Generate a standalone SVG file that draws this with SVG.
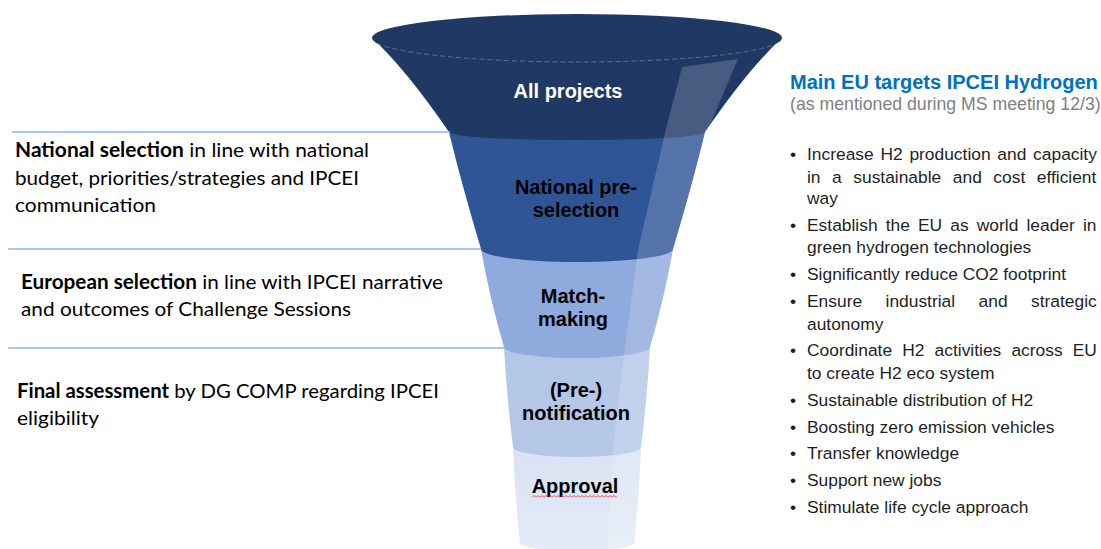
<svg xmlns="http://www.w3.org/2000/svg" xmlns:xlink="http://www.w3.org/1999/xlink" width="1101" height="549" viewBox="0 0 1101 549">
<style>
.fl{font-family:"Liberation Sans",Arial,sans-serif;font-weight:bold;font-size:20px;text-anchor:middle;fill:#000}
.lt{font-family:Lato,"Liberation Sans",sans-serif;font-size:20px;fill:#000}
.rt{font-family:"Liberation Sans",Arial,sans-serif;font-size:17.4px;fill:#1f1f1f}
.div{stroke:#8fb4e3;stroke-width:1.4;fill:none}
.hl{fill:#ffffff;fill-opacity:0.18}
</style>
<defs>
<path id="s1" d="M372,38 L782,38 Q749,68 705,132 A128,8 0 0 1 449,132 Q405,68 372,38 Z"/>
<path id="s2" d="M449,132 L705,132 Q693,182 673,249 A96,13 0 0 1 481,249 Q461,182 449,132 Z"/>
<path id="s3" d="M481,249 L673,249 Q664,300 650,347 A73,11 0 0 1 504,347 Q490,300 481,249 Z"/>
<path id="s4" d="M504,347 L650,347 Q647,400 641,447 A64,10 0 0 1 513,447 Q507,400 504,347 Z"/>
<path id="s5" d="M513,447 L641,447 Q639,500 634,543 A57,8 0 0 1 520,543 Q515,500 513,447 Z"/>
<path id="strip" d="M682,67 L738,59 L707,132 L715,300 L700,549 L607,549 L613,447 L625,347 L638,250 L665,133 Z"/>
<clipPath id="c1"><use xlink:href="#s1"/></clipPath>
<clipPath id="c2"><use xlink:href="#s2"/></clipPath>
<clipPath id="c3"><use xlink:href="#s3"/></clipPath>
<clipPath id="c4"><use xlink:href="#s4"/></clipPath>
<clipPath id="c5"><use xlink:href="#s5"/></clipPath>
<linearGradient id="g5" x1="0" y1="0" x2="0" y2="1">
<stop offset="0" stop-color="#d9e2f3"/><stop offset="1" stop-color="#e4ebf7"/>
</linearGradient>
<pattern id="sq" x="0" y="0" width="4" height="3" patternUnits="userSpaceOnUse">
<path d="M0,2.5 L2,0.5 L4,2.5" stroke="#e02020" stroke-width="0.8" fill="none"/>
</pattern>
</defs>

<g id="stage-approval">
<use xlink:href="#s5" fill="url(#g5)"/>
<use xlink:href="#strip" class="hl" clip-path="url(#c5)"/>
<text class="fl" x="575" y="493">Approval</text>
<rect x="532" y="495" width="85" height="3" fill="url(#sq)"/>
</g>
<g id="stage-prenotification">
<use xlink:href="#s4" fill="#b4c7e7"/>
<use xlink:href="#strip" class="hl" clip-path="url(#c4)"/>
<text class="fl" x="576" y="397">(Pre-)</text>
<text class="fl" x="576" y="420">notification</text>
</g>
<g id="stage-matchmaking">
<use xlink:href="#s3" fill="#8faadc"/>
<use xlink:href="#strip" class="hl" clip-path="url(#c3)"/>
<text class="fl" x="573" y="303">Match-</text>
<text class="fl" x="573" y="326">making</text>
</g>
<g id="stage-national-preselection">
<use xlink:href="#s2" fill="#2f5597"/>
<use xlink:href="#strip" class="hl" clip-path="url(#c2)"/>
<text class="fl" x="576" y="194">National pre-</text>
<text class="fl" x="576" y="217">selection</text>
</g>
<g id="stage-all-projects">
<use xlink:href="#s1" fill="#203864"/>
<ellipse cx="577" cy="38" rx="205" ry="24" fill="#203864"/>
<use xlink:href="#strip" class="hl" clip-path="url(#c1)"/>
<path d="M372,38 A205,24 0 0 0 782,38" fill="none" stroke="#ffffff" stroke-opacity="0.28" stroke-width="1" stroke-dasharray="5 3"/>
<text class="fl" x="568" y="98" style="fill:#fff">All projects</text>
</g>

<g id="connectors">
<line class="div" x1="12" y1="132" x2="450" y2="132"/>
<line class="div" x1="8" y1="249" x2="481" y2="249"/>
<line class="div" x1="8" y1="348" x2="504" y2="348"/>
</g>

<g id="label-national-selection">
<text class="lt" x="15" y="157" textLength="354" lengthAdjust="spacingAndGlyphs"><tspan font-weight="bold">National selection</tspan> in line with national</text>
<text class="lt" x="15" y="185" textLength="344" lengthAdjust="spacingAndGlyphs">budget, priorities/strategies and IPCEI</text>
<text class="lt" x="15" y="212" textLength="141" lengthAdjust="spacingAndGlyphs">communication</text>
</g>
<g id="label-european-selection">
<text class="lt" x="21" y="289" textLength="422" lengthAdjust="spacingAndGlyphs"><tspan font-weight="bold">European selection</tspan> in line with IPCEI narrative</text>
<text class="lt" x="21" y="316" textLength="330" lengthAdjust="spacingAndGlyphs">and outcomes of Challenge Sessions</text>
</g>
<g id="label-final-assessment">
<text class="lt" x="17" y="398" textLength="422" lengthAdjust="spacingAndGlyphs"><tspan font-weight="bold">Final assessment</tspan> by DG COMP regarding IPCEI</text>
<text class="lt" x="17" y="425" textLength="82" lengthAdjust="spacingAndGlyphs">eligibility</text>
</g>

<g id="targets">
<text x="790" y="89" style="font-family:'Liberation Sans',Arial,sans-serif;font-weight:bold;font-size:20px;fill:#0070c0">Main EU targets IPCEI Hydrogen</text>
<text x="790" y="110" style="font-family:'Liberation Sans',Arial,sans-serif;font-size:17.7px;fill:#7f7f7f">(as mentioned during MS meeting 12/3)</text>
<g class="rt">
<text x="790" y="160">•</text>
<text x="807" y="160" word-spacing="1.9">Increase H2 production and capacity</text>
<text x="807" y="183" word-spacing="6.7">in a sustainable and cost efficient</text>
<text x="807" y="204">way</text>
<text x="790" y="231">•</text>
<text x="807" y="231" word-spacing="3.3">Establish the EU as world leader in</text>
<text x="807" y="253">green hydrogen technologies</text>
<text x="790" y="280">•</text>
<text x="807" y="280">Significantly reduce CO2 footprint</text>
<text x="790" y="307">•</text>
<text x="807" y="307" word-spacing="18.6">Ensure industrial and strategic</text>
<text x="807" y="330">autonomy</text>
<text x="790" y="356">•</text>
<text x="807" y="356" word-spacing="5.3">Coordinate H2 activities across EU</text>
<text x="807" y="379">to create H2 eco system</text>
<text x="790" y="406">•</text>
<text x="807" y="406">Sustainable distribution of H2</text>
<text x="790" y="433">•</text>
<text x="807" y="433">Boosting zero emission vehicles</text>
<text x="790" y="459">•</text>
<text x="807" y="459">Transfer knowledge</text>
<text x="790" y="486">•</text>
<text x="807" y="486">Support new jobs</text>
<text x="790" y="513">•</text>
<text x="807" y="513">Stimulate life cycle approach</text>
</g>
</g>
</svg>
